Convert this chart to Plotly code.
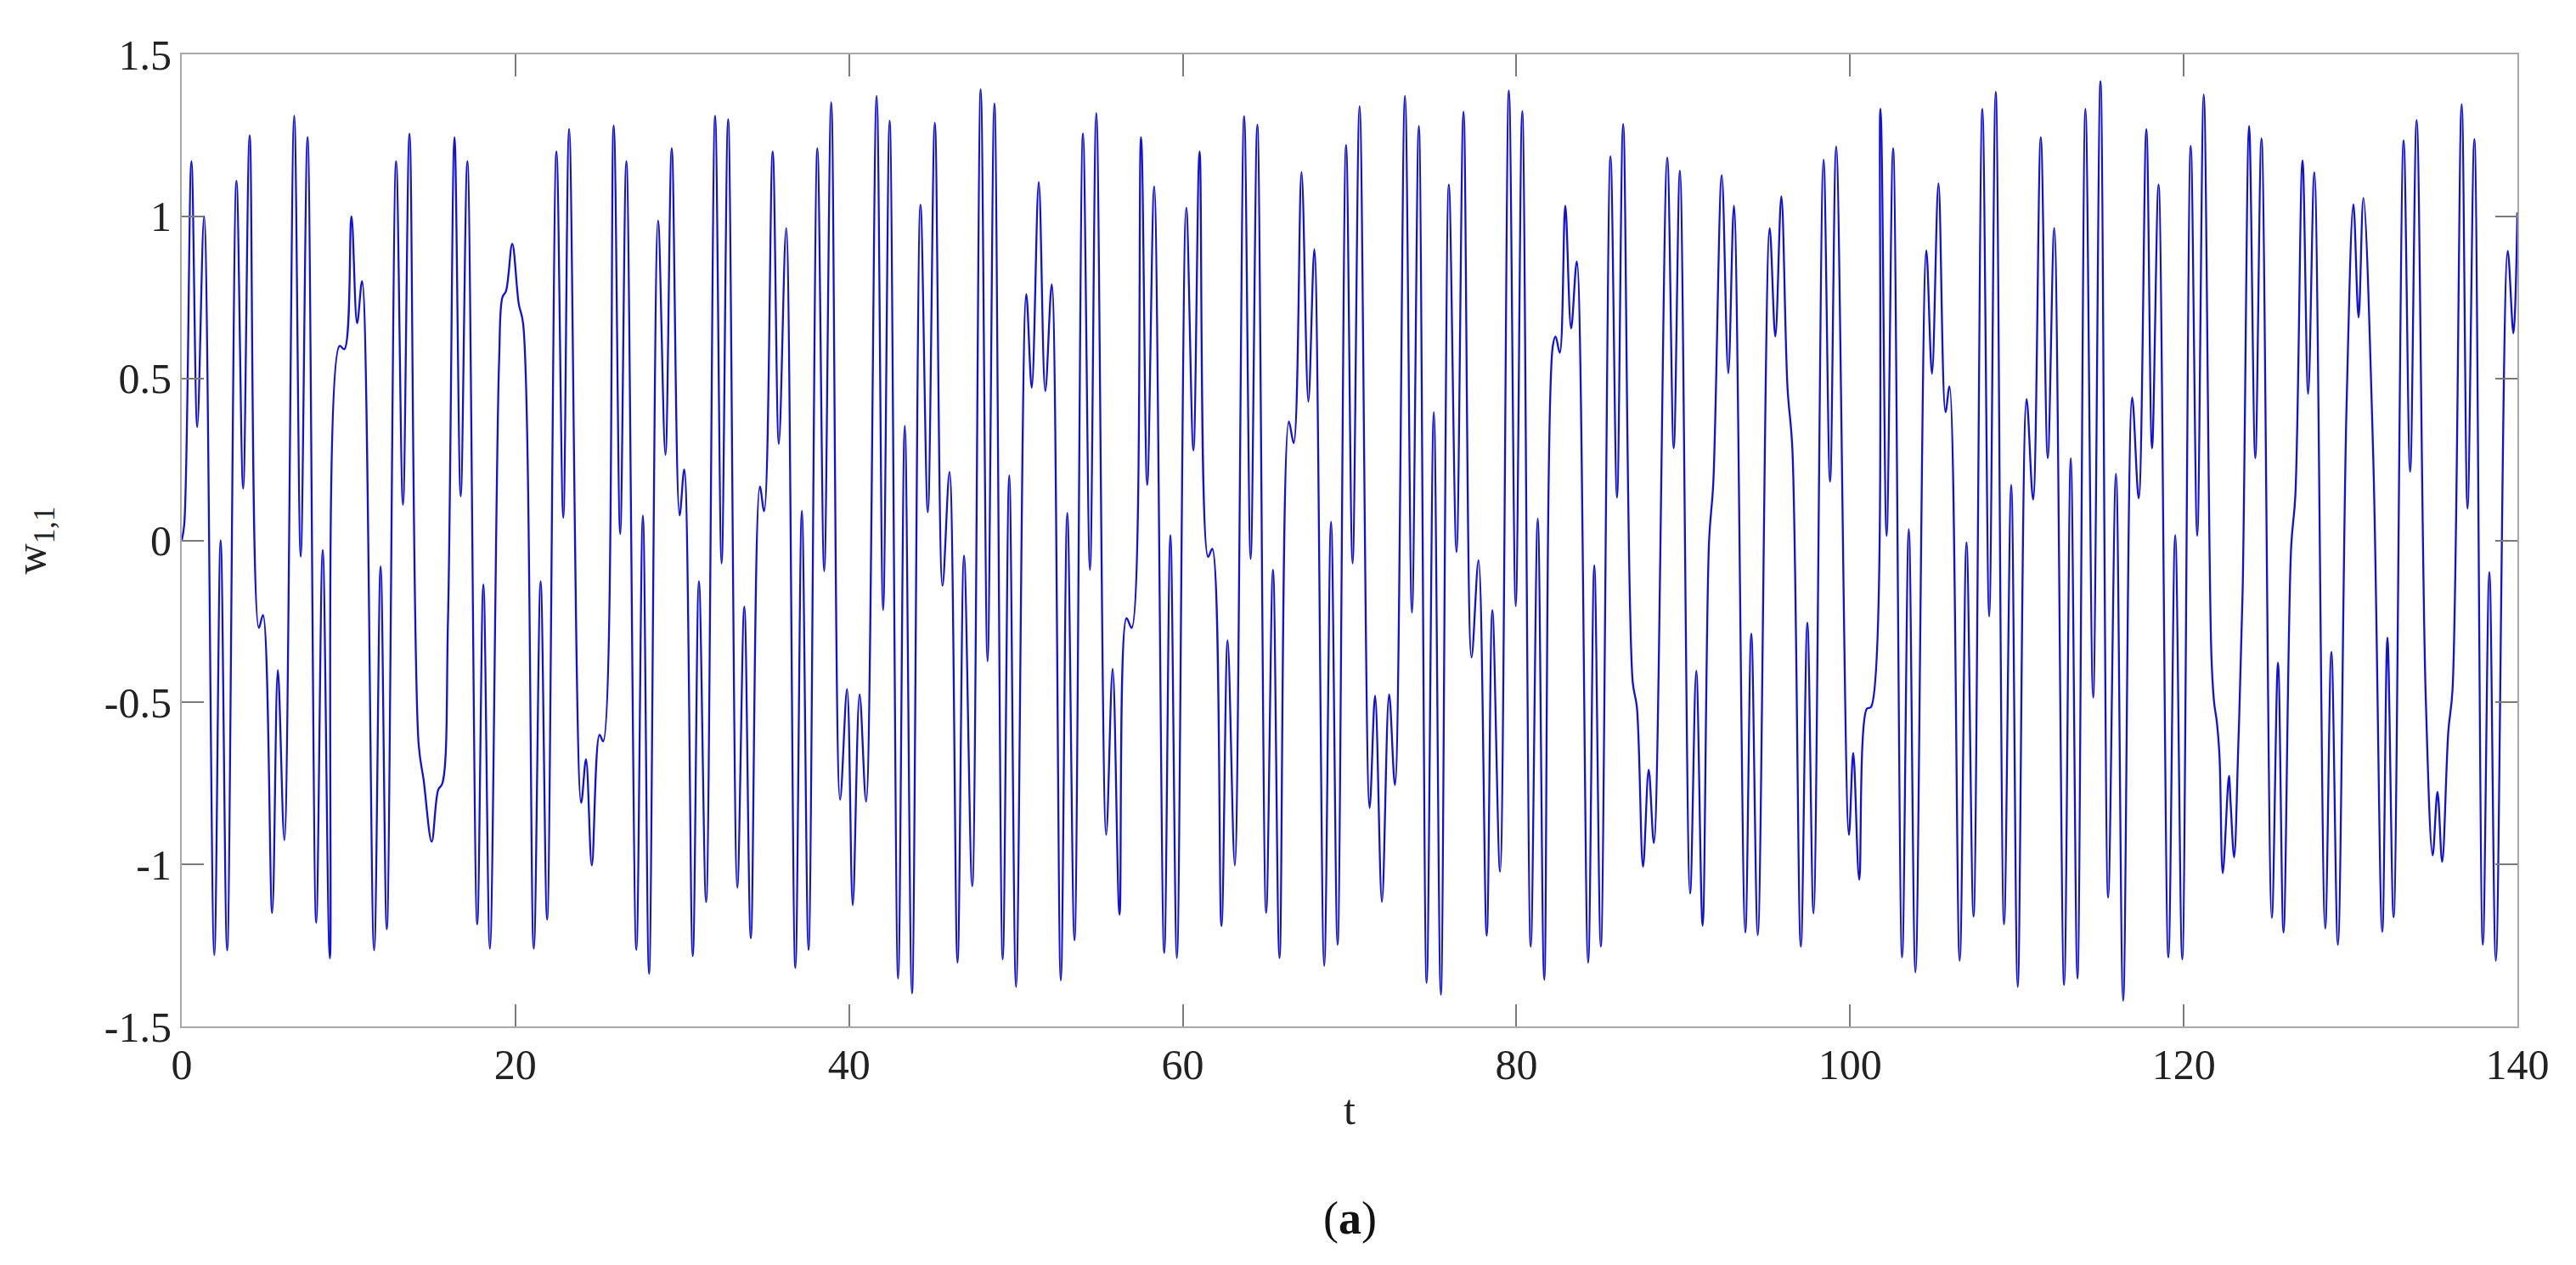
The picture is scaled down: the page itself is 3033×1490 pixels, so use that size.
import plotly.graph_objects as go

# extrema / turning points
t_vals = [
    0.00, 0.15, 0.58, 0.93, 1.34, 1.95, 2.33, 2.72, 3.28, 3.68, 4.07, 4.62, 4.87, 5.42, 5.76, 6.15,
    6.74, 7.13, 7.54, 8.06, 8.45, 8.88, 9.46, 9.75, 10.17, 10.51, 10.81, 11.53, 11.92, 12.29, 12.85,
    13.26, 13.65, 14.20, 14.50, 14.98, 15.37, 15.62, 15.96, 16.35, 16.72, 17.12, 17.71, 18.08, 18.47,
    19.02, 19.22, 19.44, 19.81, 20.20, 20.46, 21.10, 21.51, 21.90, 22.46, 22.87, 23.22, 23.94, 24.23,
    24.58, 25.04, 25.26, 25.89, 26.28, 26.65, 27.25, 27.64, 28.01, 28.55, 28.99, 29.37, 29.84, 30.12,
    30.63, 31.00, 31.43, 31.97, 32.36, 32.75, 33.30, 33.72, 34.11, 34.65, 34.91, 35.42, 35.79, 36.23,
    36.78, 37.17, 37.57, 38.10, 38.51, 38.93, 39.46, 39.88, 40.22, 40.63, 41.02, 41.65, 42.04, 42.43,
    42.94, 43.34, 43.77, 44.28, 44.72, 45.14, 45.60, 46.02, 46.50, 46.89, 47.38, 47.89, 48.30, 48.71,
    49.21, 49.60, 50.01, 50.62, 50.95, 51.37, 51.76, 52.15, 52.69, 53.08, 53.51, 54.02, 54.44, 54.82,
    55.41, 55.80, 56.21, 56.63, 56.94, 57.50, 57.87, 58.29, 58.89, 59.26, 59.65, 60.21, 60.64, 61.01,
    61.52, 61.77, 62.32, 62.69, 63.12, 63.68, 64.07, 64.47, 65.00, 65.41, 65.80, 66.36, 66.65, 67.12,
    67.53, 67.89, 68.48, 68.89, 69.28, 69.79, 70.18, 70.60, 71.20, 71.53, 71.94, 72.37, 72.72, 73.32,
    73.74, 74.15, 74.62, 75.05, 75.47, 75.95, 76.41, 76.83, 77.31, 77.73, 78.22, 78.56, 79.02, 79.55,
    79.96, 80.35, 80.86, 81.28, 81.67, 82.18, 82.35, 82.60, 82.93, 83.28, 83.62, 84.30, 84.67, 85.06,
    85.64, 86.03, 86.40, 86.97, 87.22, 87.59, 87.93, 88.24, 89.04, 89.43, 89.80, 90.41, 90.78, 91.16,
    91.55, 91.80, 92.31, 92.70, 93.04, 93.72, 94.08, 94.47, 95.18, 95.52, 95.88, 96.25, 96.54, 97.05,
    97.44, 97.81, 98.41, 98.80, 99.17, 99.93, 100.19, 100.55, 101.00, 101.26, 101.82, 102.19, 102.58,
    103.12, 103.52, 103.92, 104.57, 104.91, 105.30, 105.72, 105.96, 106.57, 106.98, 107.40, 107.93,
    108.34, 108.73, 109.23, 109.66, 110.05, 110.58, 110.97, 111.43, 111.85, 112.24, 112.83, 113.23,
    113.63, 114.11, 114.57, 115.01, 115.47, 115.94, 116.37, 116.91, 117.30, 117.76, 118.10, 118.49,
    119.08, 119.49, 119.91, 120.42, 120.81, 121.20, 121.66, 121.83, 121.97, 122.14, 122.34, 122.71,
    122.81, 123.02, 123.27, 123.53, 123.92, 124.29, 124.66, 125.28, 125.65, 125.98, 126.44, 126.69,
    127.12, 127.46, 127.83, 128.48, 128.85, 129.24, 129.75, 130.17, 130.48, 130.77, 131.36, 131.90,
    132.21, 132.58, 133.18, 133.57, 133.96, 134.50, 134.92, 135.21, 135.49, 135.86, 136.11, 136.66,
    137.01, 137.42, 137.93, 138.32, 138.71, 139.42, 139.76, 140.00,
]
w_vals = [
    0.00, 0.05, 1.17, 0.35, 1.00, -1.28, 0.00, -1.265, 1.11, 0.16, 1.25, -0.27, -0.23, -1.15, -0.40, -0.925,
    1.31, -0.05, 1.245, -1.18, -0.03, -1.29, 0.60, 0.59, 1.00, 0.67, 0.80, -1.265, -0.08, -1.20, 1.17,
    0.11, 1.255, -0.63, -0.74, -0.93, -0.77, -0.75, -0.24, 1.244, 0.136, 1.17, -1.185, -0.136, -1.26,
    0.55, 0.75, 0.77, 0.915, 0.73, 0.67, -1.26, -0.126, -1.17, 1.20, 0.07, 1.27, -0.81, -0.676,
    -1.003, -0.60, -0.62, 1.28, 0.02, 1.17, -1.264, 0.077, -1.337, 0.987, 0.264, 1.21, 0.077, 0.219,
    -1.283, -0.126, -1.116, 1.31, -0.071, 1.30, -1.072, -0.205, -1.228, 0.166, 0.09, 1.20, 0.298, 0.964,
    -1.319, 0.091, -1.264, 1.21, -0.095, 1.352, -0.80, -0.459, -1.126, -0.475, -0.806, 1.372, -0.215, 1.295,
    -1.352, 0.353, -1.398, 1.036, 0.087, 1.289, -0.14, 0.211, -1.303, -0.047, -1.067, 1.392, -0.373, 1.348,
    -1.293, 0.201, -1.378, 0.76, 0.471, 1.106, 0.461, 0.79, -1.358, 0.085, -1.234, 1.256, -0.091, 1.319,
    -0.909, -0.396, -1.155, -0.24, -0.27, 1.244, 0.171, 1.092, -1.273, 0.016, -1.289, 1.027, 0.278, 1.20,
    -0.051, -0.026, -1.19, -0.308, -1.003, 1.309, -0.057, 1.283, -1.149, -0.091, -1.289, 0.367, 0.30, 1.137,
    0.428, 0.899, -1.313, 0.057, -1.248, 1.22, -0.071, 1.34, -0.826, -0.479, -1.116, -0.475, -0.755, 1.372,
    -0.223, 1.279, -1.366, 0.396, -1.402, 1.098, -0.036, 1.323, -0.361, -0.061, -1.22, -0.215, -1.023, 1.388,
    -0.203, 1.325, -1.254, 0.067, -1.356, 0.599, 0.629, 0.579, 1.033, 0.654, 0.861, -1.303, -0.077, -1.254,
    1.185, 0.132, 1.285, -0.436, -0.514, -1.007, -0.708, -0.934, 1.181, 0.284, 1.141, -1.09, -0.402, -1.189,
    0.0, 0.175, 1.127, 0.516, 1.033, -1.21, -0.288, -1.218, 0.964, 0.629, 1.062, 0.471, 0.284, -1.254,
    -0.254, -1.151, 1.175, 0.181, 1.215, -0.909, -0.656, -1.047, -0.52, -0.514, 1.332, 0.014, 1.21,
    -1.287, 0.034, -1.333, 0.895, 0.514, 1.102, 0.396, 0.475, -1.297, -0.006, -1.161, 1.332,
    -0.235, 1.384, -1.185, 0.171, -1.378, 0.436, 0.126, 1.244, 0.254, 0.964, -1.372, 0.254,
    -1.352, 1.332, -0.485, 1.417, -1.102, 0.205, -1.421, 0.441, 0.13, 1.269, 0.284, 1.098,
    -1.287, 0.016, -1.293, 1.217, 0.014, 1.376, -0.357, -0.505, -0.554, -0.662, -1.027, -0.727,
    -0.81, -0.978, -0.633, -0.158, 1.279, 0.254, 1.24, -1.165, -0.377, -1.21, -0.02, 0.138,
    1.173, 0.452, 1.136, -1.198, -0.344, -1.248, 0.393, 1.037, 0.688, 1.057, 0.255, -1.208,
    -0.30, -1.163, 1.234, 0.212, 1.297, -0.472, -0.972, -0.776, -0.992, -0.589, -0.462, 1.346,
    0.098, 1.238, -1.248, -0.098, -1.297, 0.894, 0.639, 1.012,
]

x_ticks = [0, 20, 40, 60, 80, 100, 120, 140]
y_ticks = [-1.5, -1, -0.5, 0, 0.5, 1, 1.5]
y_labels = ["-1.5", "-1", "-0.5", "0", "0.5", "1", "1.5"]

FONT = "Liberation Serif"

fig = go.Figure()
fig.add_trace(go.Scatter(
    x=t_vals, y=w_vals, mode="lines",
    line=dict(color="#1010e0", width=2.3, shape="spline", smoothing=1.0),
    showlegend=False,
))

axis_common = dict(
    showgrid=False, zeroline=False,
    showline=True, linecolor="#a8a8a8", linewidth=2, mirror="ticks",
    ticks="inside", ticklen=26, tickwidth=2, tickcolor="#7a7a7a",
    tickfont=dict(family=FONT, size=50, color="#222222"),
)

fig.update_xaxes(
    range=[0, 140], tickvals=x_ticks, ticktext=[str(v) for v in x_ticks],
    title=dict(text="t", font=dict(family=FONT, size=50, color="#222222"), standoff=8),
    **axis_common,
)
fig.update_yaxes(
    range=[-1.5, 1.5], tickvals=y_ticks, ticktext=y_labels,
    title=dict(text="w<sub>1,1</sub>", font=dict(family=FONT, size=50, color="#222222"), standoff=55),
    **axis_common,
)

fig.add_annotation(
    text="(<b>a</b>)", xref="paper", yref="paper", x=0.5, y=-0.197,
    showarrow=False, font=dict(family=FONT, size=54, color="#111111"),
    xanchor="center", yanchor="middle",
)

fig.update_layout(
    width=3033, height=1490,
    margin=dict(l=206, r=77, t=56, b=289),
    paper_bgcolor="white", plot_bgcolor="white",
)

fig.write_html("out.html")
